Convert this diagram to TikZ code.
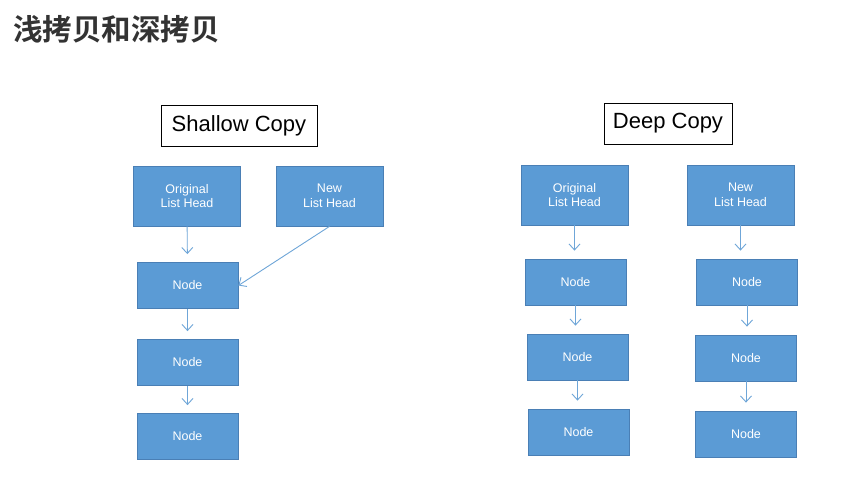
\documentclass[tikz,border=0pt]{standalone}
\usepackage{fontspec}
\setmainfont{Liberation Sans}
\newfontfamily\cjkbold{Noto Sans CJK SC Bold}
\usetikzlibrary{arrows.meta}
\definecolor{boxblue}{HTML}{5B9BD5}
\definecolor{boxedge}{HTML}{4A7FB5}
\definecolor{linkblue}{HTML}{6FA6D8}
\definecolor{titlegray}{HTML}{333333}
\tikzset{
  listbox/.style={draw=boxedge, fill=boxblue, text=white, line width=0.8pt,
    minimum width=101pt, minimum height=46pt, font=\fontsize{12.5}{14.5}\selectfont, align=center, inner sep=0pt},
  headbox/.style={listbox, minimum width=107pt, minimum height=60pt},
  caption/.style={draw=black, line width=0.8pt, fill=white, minimum height=41pt, inner sep=0pt,
    font=\fontsize{22}{25}\selectfont},
  link/.style={draw=linkblue, line width=0.9pt, -{Straight Barb[length=6pt,width=11pt]}, shorten >=8pt}
}

\begin{document}
\begin{tikzpicture}[x=1pt,y=-1pt]
\useasboundingbox[fill=white] (0,0) rectangle (847,487);
\node[anchor=base west, text=titlegray, font=\cjkbold\fontsize{29.5}{31}\selectfont, inner sep=0pt] (title) at (13,41) {浅拷贝和深拷贝};

% shallow copy
\node[caption, minimum width=156pt] (shallow) at (239,125.5) {Shallow Copy};
\node[headbox] (sorig) at (187,196) {Original\\List Head};
\node[headbox] (snew) at (329.5,196) {New\\List Head};
\node[listbox] (snodea) at (187.5,285.5) {Node};
\node[listbox] (snodeb) at (187.5,362.5) {Node};
\node[listbox] (snodec) at (187.5,436.5) {Node};
\draw[link] (sorig) -- (snodea);
\draw[link] (snodea) -- (snodeb);
\draw[link] (snodeb) -- (snodec);
\draw[link, shorten >=0pt] (snew.south) -- (snodea.east);

% deep copy
\node[caption, minimum width=128pt] (deep) at (668,123.5) {Deep Copy};
\node[headbox] (dorig) at (574.5,195) {Original\\List Head};
\node[headbox] (dnew) at (740.5,195) {New\\List Head};
\node[listbox] (dnodea) at (575.5,282) {Node};
\node[listbox] (dnodeb) at (577.5,357) {Node};
\node[listbox] (dnodec) at (578.5,432) {Node};
\node[listbox] (dcopya) at (747,282) {Node};
\node[listbox] (dcopyb) at (746,358) {Node};
\node[listbox] (dcopyc) at (746,434) {Node};
\draw[link] (dorig) -- (dorig|-dnodea.north);
\draw[link] (dnodea) -- (dnodea|-dnodeb.north);
\draw[link] (dnodeb) -- (dnodeb|-dnodec.north);
\draw[link] (dnew) -- (dnew|-dcopya.north);
\draw[link] (dcopya) -- (dcopya|-dcopyb.north);
\draw[link] (dcopyb) -- (dcopyb|-dcopyc.north);

\end{tikzpicture}
\end{document}
